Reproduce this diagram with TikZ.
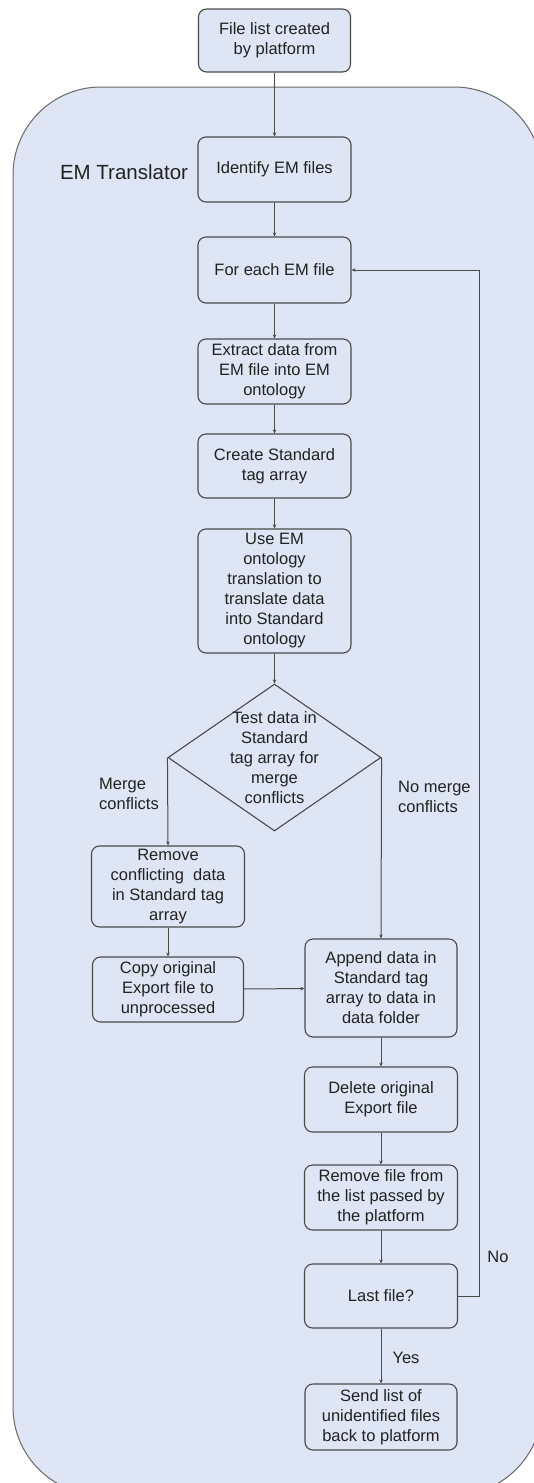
\documentclass[tikz,border=0pt]{standalone}
\usepackage{fontspec}
\setmainfont{Liberation Sans}
\usetikzlibrary{shapes.geometric,arrows.meta}
\definecolor{panelfill}{HTML}{DEE5F4}
\definecolor{panelline}{HTML}{6A6A6A}
\definecolor{boxline}{HTML}{4A4A4A}
\definecolor{inktext}{HTML}{222222}
\tikzset{
  flowbox/.style={draw=boxline, fill=panelfill, line width=1.1pt, rounded corners=8pt,
    minimum width=153pt, minimum height=65pt, inner sep=2pt, align=center,
    text=inktext, font=\fontsize{16.5}{20}\selectfont},
  decision/.style={draw=boxline, line width=1.1pt, shape=diamond,
    minimum width=213pt, minimum height=147pt, inner sep=0pt},
  flowtext/.style={text=inktext, align=center, inner sep=0pt,
    font=\fontsize{16.5}{20}\selectfont},
  branchlabel/.style={text=inktext, align=left, inner sep=0pt,
    font=\fontsize{16.5}{20}\selectfont},
  flowarrow/.style={draw=boxline, line width=1pt,
    -{Stealth[length=4pt,width=3.5pt]}},
}
\begin{document}
\begin{tikzpicture}[x=1pt,y=-1pt]
  \useasboundingbox (0,0) rectangle (534,1483);
  \clip (0,0) rectangle (534,1483);
  \fill[white] (0,0) rectangle (534,1483);

  % translator panel
  \draw[fill=panelfill, draw=panelline, line width=1pt, rounded corners=88pt]
    (13,87) rectangle (542,1495);
  \node[text=inktext, inner sep=0pt, font=\fontsize{20.5}{24}\selectfont]
    (title) at (124,172) {EM Translator};

  % process steps
  \node[flowbox, minimum width=152pt, minimum height=63pt] (start) at (274.5,40.5)
    {File list created\\by platform};
  \node[flowbox] (ident) at (274.5,169.5) {Identify EM files};
  \node[flowbox, minimum height=66pt] (foreach) at (274.5,270) {For each EM file};
  \node[flowbox] (extract) at (274.5,371.5) {Extract data from\\EM file into EM\\ontology};
  \node[flowbox, minimum height=64pt] (create) at (274.5,466) {Create Standard\\tag array};
  \node[flowbox, minimum height=124pt] (use) at (274.5,591)
    {Use EM\\ontology\\translation to\\translate data\\into Standard\\ontology};
  \node[decision] (test) at (274.5,757.5) {};
  \node[flowtext] (testtext) at (274.5,758) {Test data in\\Standard\\tag array for\\merge\\conflicts};
  \node[flowbox, minimum width=153pt, minimum height=81pt] (remove) at (168,886.5)
    {Remove\\conflicting~ data\\in Standard tag\\array};
  \node[flowbox, minimum width=151pt] (copy) at (168,989.5)
    {Copy original\\Export file to\\unprocessed};
  \node[flowbox, minimum width=152pt, minimum height=98pt] (append) at (381,988)
    {Append data in\\Standard tag\\array to data in\\data folder};
  \node[flowbox] (delete) at (381,1099.5) {Delete original\\Export file};
  \node[flowbox] (removefile) at (381,1197.5)
    {Remove file from\\the list passed by\\the platform};
  \node[flowbox, minimum height=64pt] (last) at (381,1296) {Last file?};
  \node[flowbox, minimum width=152pt, minimum height=66pt] (send) at (381,1417)
    {Send list of\\unidentified files\\back to platform};

  % branch labels
  \node[branchlabel, anchor=west] (mergelbl) at (99,794) {Merge\\conflicts};
  \node[branchlabel, anchor=west] (nomergelbl) at (398,797) {No merge\\conflicts};
  \node[branchlabel] (nolbl) at (498,1257) {No};
  \node[branchlabel] (yeslbl) at (406,1358) {Yes};

  % connectors
  \draw[flowarrow] (start) -- (ident);
  \draw[flowarrow] (ident) -- (foreach);
  \draw[flowarrow] (foreach) -- (extract);
  \draw[flowarrow] (extract) -- (create);
  \draw[flowarrow] (create) -- (use);
  \draw[flowarrow] (use) -- (test);
  \draw[flowarrow] (test.west) -- (remove.north);
  \draw[flowarrow] (test.east) -- (append.north);
  \draw[flowarrow] (remove) -- (copy);
  \draw[flowarrow] (copy) -- (append);
  \draw[flowarrow] (append) -- (delete);
  \draw[flowarrow] (delete) -- (removefile);
  \draw[flowarrow] (removefile) -- (last);
  \draw[flowarrow] (last) -- (send);
  \coordinate (loopturn) at (479,1296);
  \draw[flowarrow] (last.east) -- (loopturn) |- (foreach.east);
\end{tikzpicture}
\end{document}
